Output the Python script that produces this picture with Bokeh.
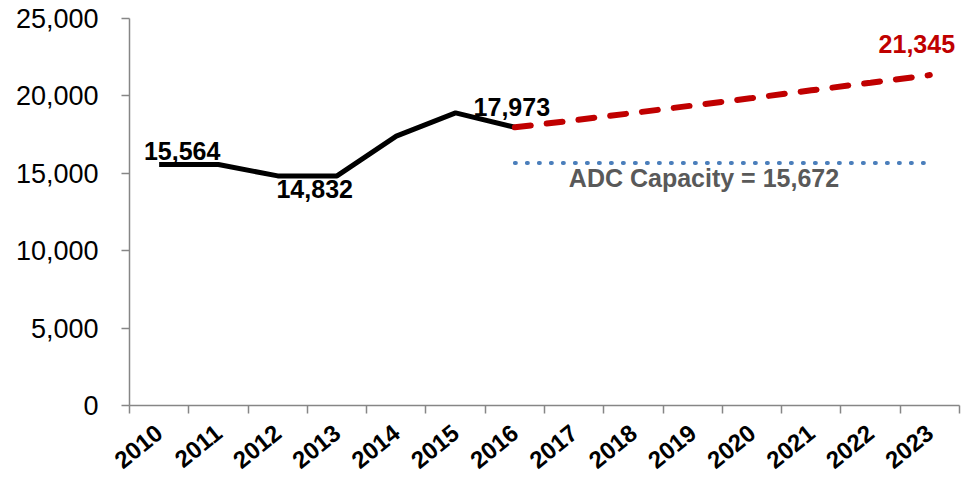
import math
from bokeh.plotting import figure
from bokeh.models import (Range1d, LinearAxis, FixedTicker,
                          NumeralTickFormatter, ColumnDataSource, LabelSet)
from bokeh.core.properties import value
from bokeh.embed import file_html
from bokeh.resources import INLINE

# ---- data ----
years = [str(y) for y in range(2010, 2024)]
actual_years = years[:7]
actual_values = [15564, 15564, 14832, 14832, 17400, 18900, 17973]
proj_years = years[6:]
proj_values = [17973, 18420, 18900, 19380, 19860, 20360, 20850, 21345]
capacity = 15672
cap_years = [years[6], years[-1]]
cap_label = "ADC Capacity = 15,672"
y_ticks = [0, 5000, 10000, 15000, 20000, 25000]

FONT = "Liberation Sans"
AXIS_GRAY = "#868686"

# category centre positions (Excel-style: ticks between categories)
pos = {y: i + 0.5 for i, y in enumerate(years)}
def xs(cats):
    return [pos[c] for c in cats]

p = figure(width=963, height=479,
           x_range=Range1d(0, len(years)),
           y_range=Range1d(0, 25000),
           x_axis_location=None,
           output_backend="svg", toolbar_location=None,
           min_border_left=129, min_border_right=4, min_border_top=18,
           min_border_bottom=71)
p.outline_line_color = None
p.xgrid.visible = False
p.ygrid.visible = False
p.background_fill_color = "white"
p.border_fill_color = "white"

# y axis
ya = p.yaxis[0]
ya.ticker = FixedTicker(ticks=y_ticks)
ya.formatter = NumeralTickFormatter(format="0,0")
ya.axis_line_color = AXIS_GRAY
ya.axis_line_width = 1.5
ya.major_tick_line_color = AXIS_GRAY
ya.major_tick_line_width = 1.5
ya.major_tick_out = 8
ya.major_tick_in = 0
ya.minor_tick_line_color = None
ya.major_label_text_font = FONT
ya.major_label_text_font_size = "27px"
ya.major_label_text_color = "black"
ya.major_label_standoff = 23

# x axis: year labels at category centres, ticks (minor) at category boundaries
xa = LinearAxis(ticker=FixedTicker(ticks=xs(years),
                                   minor_ticks=list(range(len(years) + 1))),
                major_label_overrides={pos[y]: y for y in years},
                axis_line_color=AXIS_GRAY, axis_line_width=1.5,
                major_tick_line_color=None, major_tick_out=0, major_tick_in=0,
                minor_tick_line_color=AXIS_GRAY, minor_tick_line_width=1.5,
                minor_tick_out=8, minor_tick_in=0,
                major_label_orientation=0.68,
                major_label_text_font=FONT,
                major_label_text_font_size="24px",
                major_label_text_font_style="bold",
                major_label_text_color="black",
                major_label_standoff=16)
p.add_layout(xa, "below")

# lines
p.line(xs(actual_years), actual_values, line_color="black", line_width=5)
p.line(xs(proj_years), proj_values, line_color="#C00000", line_width=6,
       line_dash="16 16", line_cap="round")
p.line(xs(cap_years), [capacity, capacity], line_color="#4A7EBB", line_width=4,
       line_dash="1 11", line_cap="round")

def add_label(x, y, text, color, align, dx, dy):
    src = ColumnDataSource(dict(x=[pos[x]], y=[y], t=[text]))
    p.add_layout(LabelSet(x="x", y="y", text="t", source=src,
                          x_offset=dx, y_offset=dy,
                          text_font=value(FONT), text_font_size=value("25px"),
                          text_font_style="bold", text_color=color,
                          text_align=align, text_baseline="alphabetic"))

add_label(actual_years[0], actual_values[0], f"{actual_values[0]:,}", "black", "center", 23, 5)
add_label(actual_years[2], actual_values[2], f"{actual_values[2]:,}", "black", "center", 37, -22)
add_label(actual_years[6], actual_values[6], f"{actual_values[6]:,}", "black", "center", -3, 11)
add_label(proj_years[-1], proj_values[-1], f"{proj_values[-1]:,}", "#C00000", "center", -13, 22)
add_label(cap_years[0], capacity, cap_label, "#595959", "left", 54, -24)

open("out.html", "w").write(file_html(p, INLINE))
